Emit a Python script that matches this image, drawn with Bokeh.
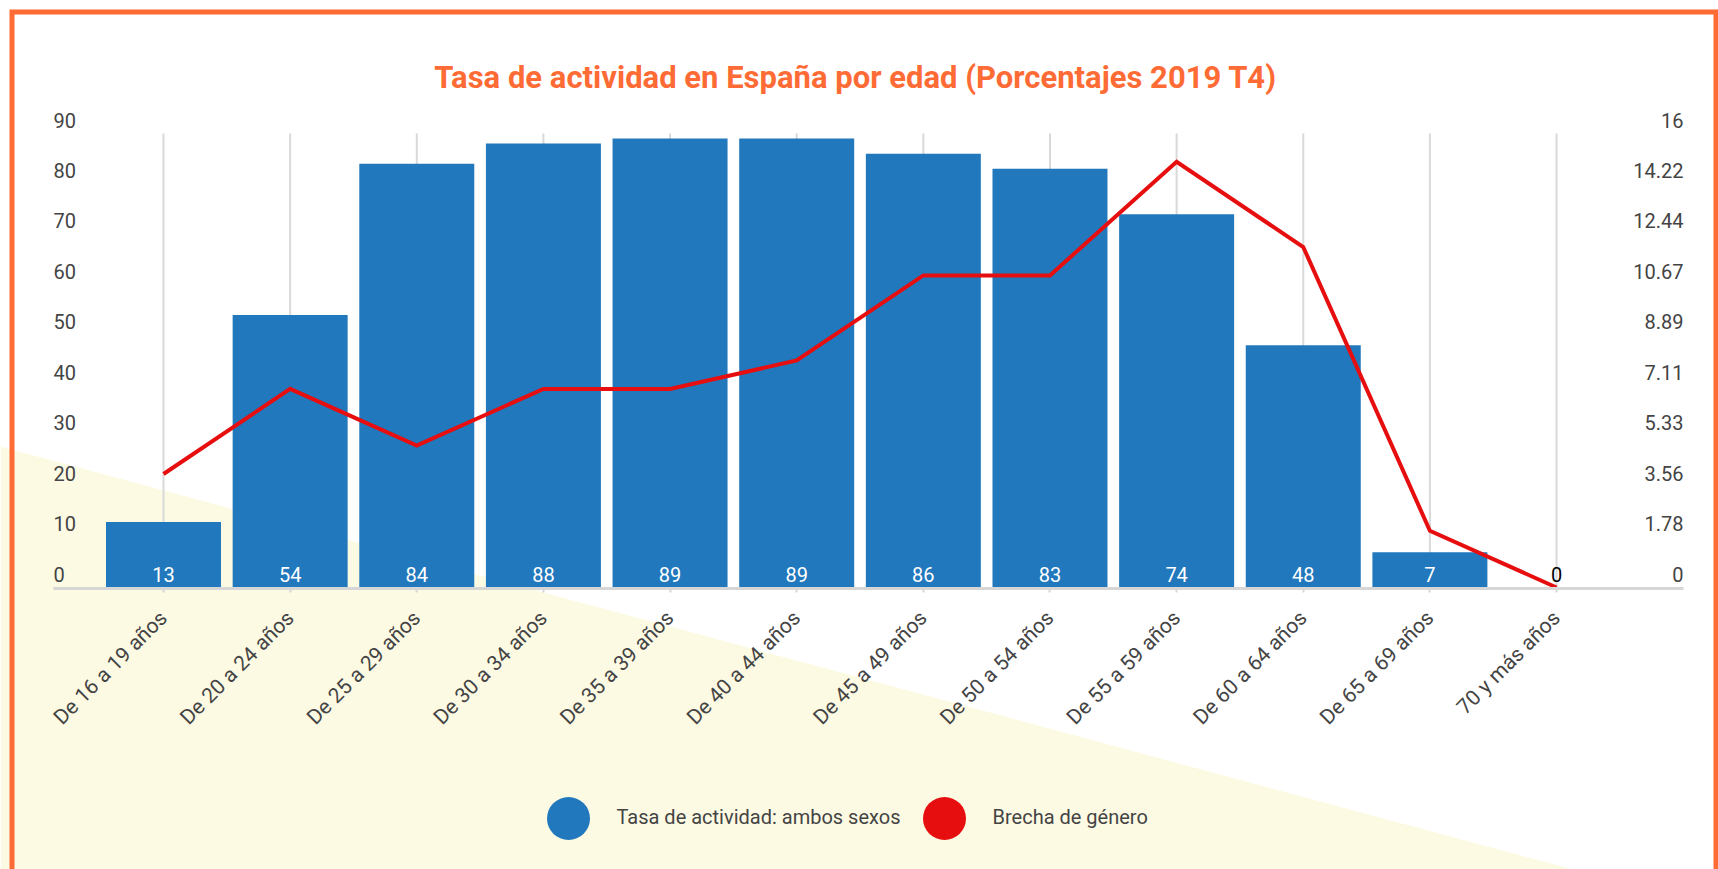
import math
from bokeh.plotting import figure
from bokeh.models import Range1d, LinearAxis, FixedTicker, ColumnDataSource
from bokeh.core.properties import value
from bokeh.embed import file_html
from bokeh.resources import INLINE

# ---------------- data ----------------
categories = ["De 16 a 19 años", "De 20 a 24 años", "De 25 a 29 años", "De 30 a 34 años",
              "De 35 a 39 años", "De 40 a 44 años", "De 45 a 49 años", "De 50 a 54 años",
              "De 55 a 59 años", "De 60 a 64 años", "De 65 a 69 años", "70 y más años"]
activity = [13, 54, 84, 88, 89, 89, 86, 83, 74, 48, 7, 0]
gender_gap = [4, 7, 5, 7, 7, 8, 11, 11, 15, 12, 2, 0]
left_ticks = [0, 10, 20, 30, 40, 50, 60, 70, 80, 90]
right_tick_labels = ["0", "1.78", "3.56", "5.33", "7.11", "8.89", "10.67", "12.44", "14.22", "16"]
right_max = 16
left_max = 90
title_text = "Tasa de actividad en España por edad (Porcentajes 2019 T4)"
series_names = ["Tasa de actividad: ambos sexos", "Brecha de género"]

# ---------------- styling ----------------
BLUE = "#2178BC"
RED = "#E60E0E"
ORANGE = "#FF6B35"
YELLOW = "#FDFAE4"
GRID = "#D9D9D9"
TXT = "#444444"
FONT = "Roboto"
FS = "20px"

W, H = 1718, 869
CAT0_PX = 163.0     # canvas x of first category
STEP_PX = 126.64    # px between categories
BASE_PX = 587.0     # canvas y of value 0
UNIT_PX = 454.0 / left_max  # px per left-axis unit
FRAME_L, FRAME_R = 53.0, 1683.0
LBL_RAISE = 13.5 / UNIT_PX   # label centres sit ~13px above their value


def px_x(cx):
    return (cx - CAT0_PX) / STEP_PX


def px_y(cy):
    return (BASE_PX - cy) / UNIT_PX


gap_scale = right_max / left_max
idx = list(range(len(categories)))

p = figure(width=W, height=H,
           x_range=Range1d(px_x(0), px_x(W)),
           y_range=Range1d(px_y(H), px_y(0)),
           x_axis_type=None, y_axis_type=None,
           toolbar_location=None, output_backend="svg",
           min_border=0, outline_line_color=None,
           background_fill_color="white", border_fill_color="white")
p.title.visible = False
p.extra_y_ranges = {"gap": Range1d(px_y(H) * gap_scale, px_y(0) * gap_scale)}

# background triangle
p.patch(x=[px_x(0), px_x(1573), px_x(0)], y=[px_y(446), px_y(H), px_y(H)],
        fill_color=YELLOW, line_color=None)

# vertical grid lines
p.segment(x0=idx, y0=[0] * len(idx), x1=idx, y1=[left_max] * len(idx),
          line_color=GRID, line_width=2)

# bars
bar_src = ColumnDataSource(dict(
    x=idx, top=activity, lbl=[str(v) for v in activity],
    col=["white" if v > 0 else "black" for v in activity]))
p.vbar(x="x", top="top", bottom=0, width=0.908, source=bar_src,
       fill_color=BLUE, line_color=None)

# gender gap line
p.line(x=idx, y=gender_gap, y_range_name="gap", line_color=RED, line_width=4,
       line_join="miter")

# bar value labels
p.text(x="x", y=LBL_RAISE, text="lbl", source=bar_src, text_color="col",
       text_font=value(FONT), text_font_size=FS, text_align="center",
       text_baseline="middle")

# left tick labels
p.text(x=[px_x(FRAME_L)] * len(left_ticks), y=[t + LBL_RAISE for t in left_ticks],
       text=[str(t) for t in left_ticks], text_color=TXT,
       text_font=value(FONT), text_font_size=FS, text_align="left",
       text_baseline="middle")

# right tick labels
right_vals = [i * right_max / (len(right_tick_labels) - 1) for i in range(len(right_tick_labels))]
p.text(x=[px_x(FRAME_R)] * len(right_vals),
       y=[v + LBL_RAISE * gap_scale for v in right_vals], y_range_name="gap",
       text=right_tick_labels, text_color=TXT,
       text_font=value(FONT), text_font_size=FS, text_align="right",
       text_baseline="middle")

# x axis
xaxis = LinearAxis(fixed_location=-0.2, ticker=FixedTicker(ticks=idx),
                   major_label_overrides={i: c for i, c in enumerate(categories)})
xaxis.bounds = (px_x(FRAME_L), px_x(FRAME_R))
xaxis.major_label_orientation = math.pi / 4
xaxis.axis_line_color = "#D6D6D6"
xaxis.axis_line_width = 3
xaxis.major_tick_line_color = "#D6D6D6"
xaxis.major_tick_line_width = 2
xaxis.major_tick_in = 0
xaxis.major_tick_out = 4
xaxis.minor_tick_line_color = None
xaxis.major_label_standoff = 22
xaxis.major_label_text_font = FONT
xaxis.major_label_text_font_size = "21px"
xaxis.major_label_text_color = TXT
p.add_layout(xaxis, "below")

# title
p.text(x=[px_x(855)], y=[px_y(77)], text=[title_text], text_color=ORANGE,
       text_font=value(FONT), text_font_size="31px", text_font_style="bold",
       text_align="center", text_baseline="middle")

# legend
p.scatter(x=[px_x(568), px_x(944)], y=[px_y(818), px_y(818)], size=43,
          marker="circle", fill_color=[BLUE, RED], line_color=None)
p.text(x=[px_x(616), px_x(992)], y=[px_y(816), px_y(816)], text=series_names,
       text_color=TXT, text_font=value(FONT), text_font_size=FS,
       text_align="left", text_baseline="middle")

# orange frame
p.line(x=[px_x(11.5), px_x(11.5), px_x(1715.5), px_x(1715.5)],
       y=[px_y(H), px_y(11.5), px_y(11.5), px_y(H)],
       line_color=ORANGE, line_width=5, line_join="miter")

open("out.html", "w").write(file_html(p, INLINE))
